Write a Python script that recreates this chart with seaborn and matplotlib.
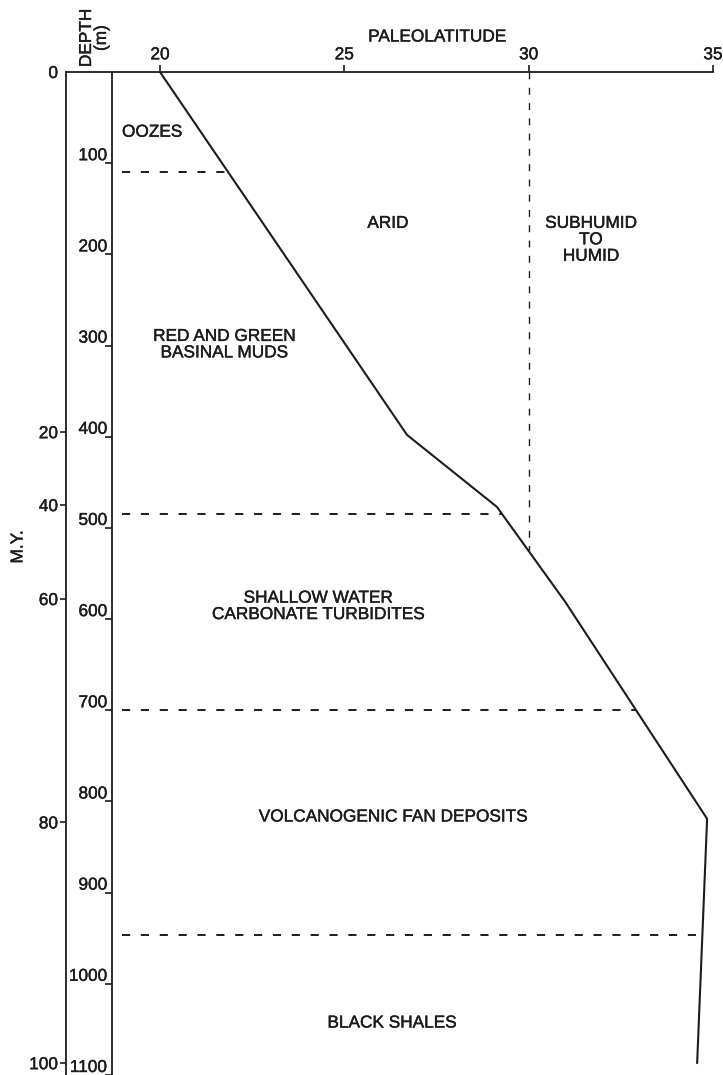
import numpy as np
import pandas as pd
import matplotlib
matplotlib.use("Agg")
import matplotlib.pyplot as plt
import matplotlib.patheffects as pe
import seaborn as sns

# Paleolatitude track of the site versus sub-bottom depth
paleolatitude = [20.0, 26.70, 29.14, 30.99, 34.84, 34.57]
depth_m = [0, 398, 477, 581, 819, 1087]

# Lithologic unit boundaries (depth, m)
unit_boundaries = [110, 485, 700, 946]
# Arid / humid climate boundary
climate_lat = 30
climate_base_depth = 524

lat_ticks = [20, 25, 30, 35]
depth_ticks = list(range(100, 1101, 100))
age_labels = [0, 20, 40, 60, 80, 100]
age_depths = [0, 395, 475, 578, 823, 1087]

units = ["OOZES", "RED AND GREEN\nBASINAL MUDS", "SHALLOW WATER\nCARBONATE TURBIDITES",
         "VOLCANOGENIC FAN DEPOSITS", "BLACK SHALES"]
climates = ["ARID", "SUBHUMID\nTO\nHUMID"]

sns.set_style("white")
plt.rcParams["font.family"] = ["Liberation Sans", "DejaVu Sans"]
ink = "#1c1c1c"
fs = 12.4
heavy = [pe.withStroke(linewidth=0.3, foreground=ink)]

W, H = 723, 1075
fig = plt.figure(figsize=(W / 100, H / 100), dpi=100)
fig.patch.set_facecolor("white")
ax = fig.add_axes([112 / W, 0, 601 / W, 1003 / H])
ax_age = fig.add_axes([66 / W, 0, 46 / W, 1003 / H])

track = pd.DataFrame({"lat": paleolatitude, "depth": depth_m})
sns.lineplot(data=track, x="lat", y="depth", sort=False, estimator=None,
             color=ink, lw=1.5, ax=ax)

# Unit boundaries run from the depth axis to the track
x_start = 18.97
for d in unit_boundaries:
    x_end = np.interp(d, track["depth"], track["lat"])
    ax.plot([x_start, x_end], [d, d], color=ink, lw=1.4, dashes=(4.2, 5.5))

# Climate boundary
ax.plot([climate_lat, climate_lat], [0, climate_base_depth], color=ink, lw=1.0,
        dashes=(5, 6))

ax.set_xlim(18.698, 35)
ax.set_ylim(1100, 0)
ax.set_xlabel("")
ax.set_ylabel("")

for a in (ax, ax_age):
    a.set_facecolor("none")
    for s in ("right", "bottom"):
        a.spines[s].set_visible(False)
    for s in ("left", "top"):
        a.spines[s].set_color(ink)
        a.spines[s].set_linewidth(1.3)

# Paleolatitude axis on top
ax.xaxis.tick_top()
ax.set_xticks(lat_ticks, labels=[str(v) for v in lat_ticks])
ax.tick_params(axis="x", top=True, bottom=False, direction="out", length=5,
               width=1.2, color=ink, labelcolor=ink, labelsize=fs, pad=2)
ax.text(0.541, 1 + 35 / 1003, "PALEOLATITUDE", transform=ax.transAxes,
        ha="center", va="center", fontsize=fs, color=ink, path_effects=heavy)

# Depth axis
ax.set_yticks(depth_ticks, labels=[str(v) for v in depth_ticks], va="bottom")
ax.tick_params(axis="y", left=True, direction="out", length=5, width=1.2,
               color=ink, labelcolor=ink, labelsize=fs, pad=-1.5)

# Age axis (M.Y.)
ax_age.set_xlim(0, 1)
ax_age.set_ylim(1100, 0)
ax_age.set_xticks([])
ax_age.set_yticks(age_depths, labels=[str(v) for v in age_labels])
ax_age.tick_params(axis="y", left=True, direction="out", length=4.3, width=1.2,
                   color=ink, labelcolor=ink, labelsize=fs, pad=1.5)
ax_age.yaxis.get_major_ticks()[0].tick1line.set_visible(False)

for lab in ax.get_xticklabels() + ax.get_yticklabels() + ax_age.get_yticklabels():
    lab.set_path_effects(heavy)

fig.text(18 / W, 1 - 547 / H, "M.Y.", rotation=90, ha="center", va="center",
         fontsize=fs, color=ink, path_effects=heavy)
fig.text(94 / W, 1 - 38 / H, "DEPTH\n(m)", rotation=90, ha="center", va="center",
         multialignment="center", fontsize=fs, color=ink, linespacing=1.0,
         path_effects=heavy)

# Unit and climate annotations
note = dict(fontsize=fs, color=ink, path_effects=heavy)
ax.text(18.97, 66, units[0], ha="left", va="center", **note)
ax.text(21.74, 299, units[1], ha="center", va="center", linespacing=1.12, **note)
ax.text(24.29, 586, units[2], ha="center", va="center", linespacing=1.12, **note)
ax.text(26.32, 817, units[3], ha="center", va="center", **note)
ax.text(26.29, 1043, units[4], ha="center", va="center", **note)
ax.text(26.18, 166, climates[0], ha="center", va="center", **note)
ax.text(31.69, 184, climates[1], ha="center", va="center", linespacing=1.12, **note)

fig.savefig("out.png", dpi=100, facecolor="white")
